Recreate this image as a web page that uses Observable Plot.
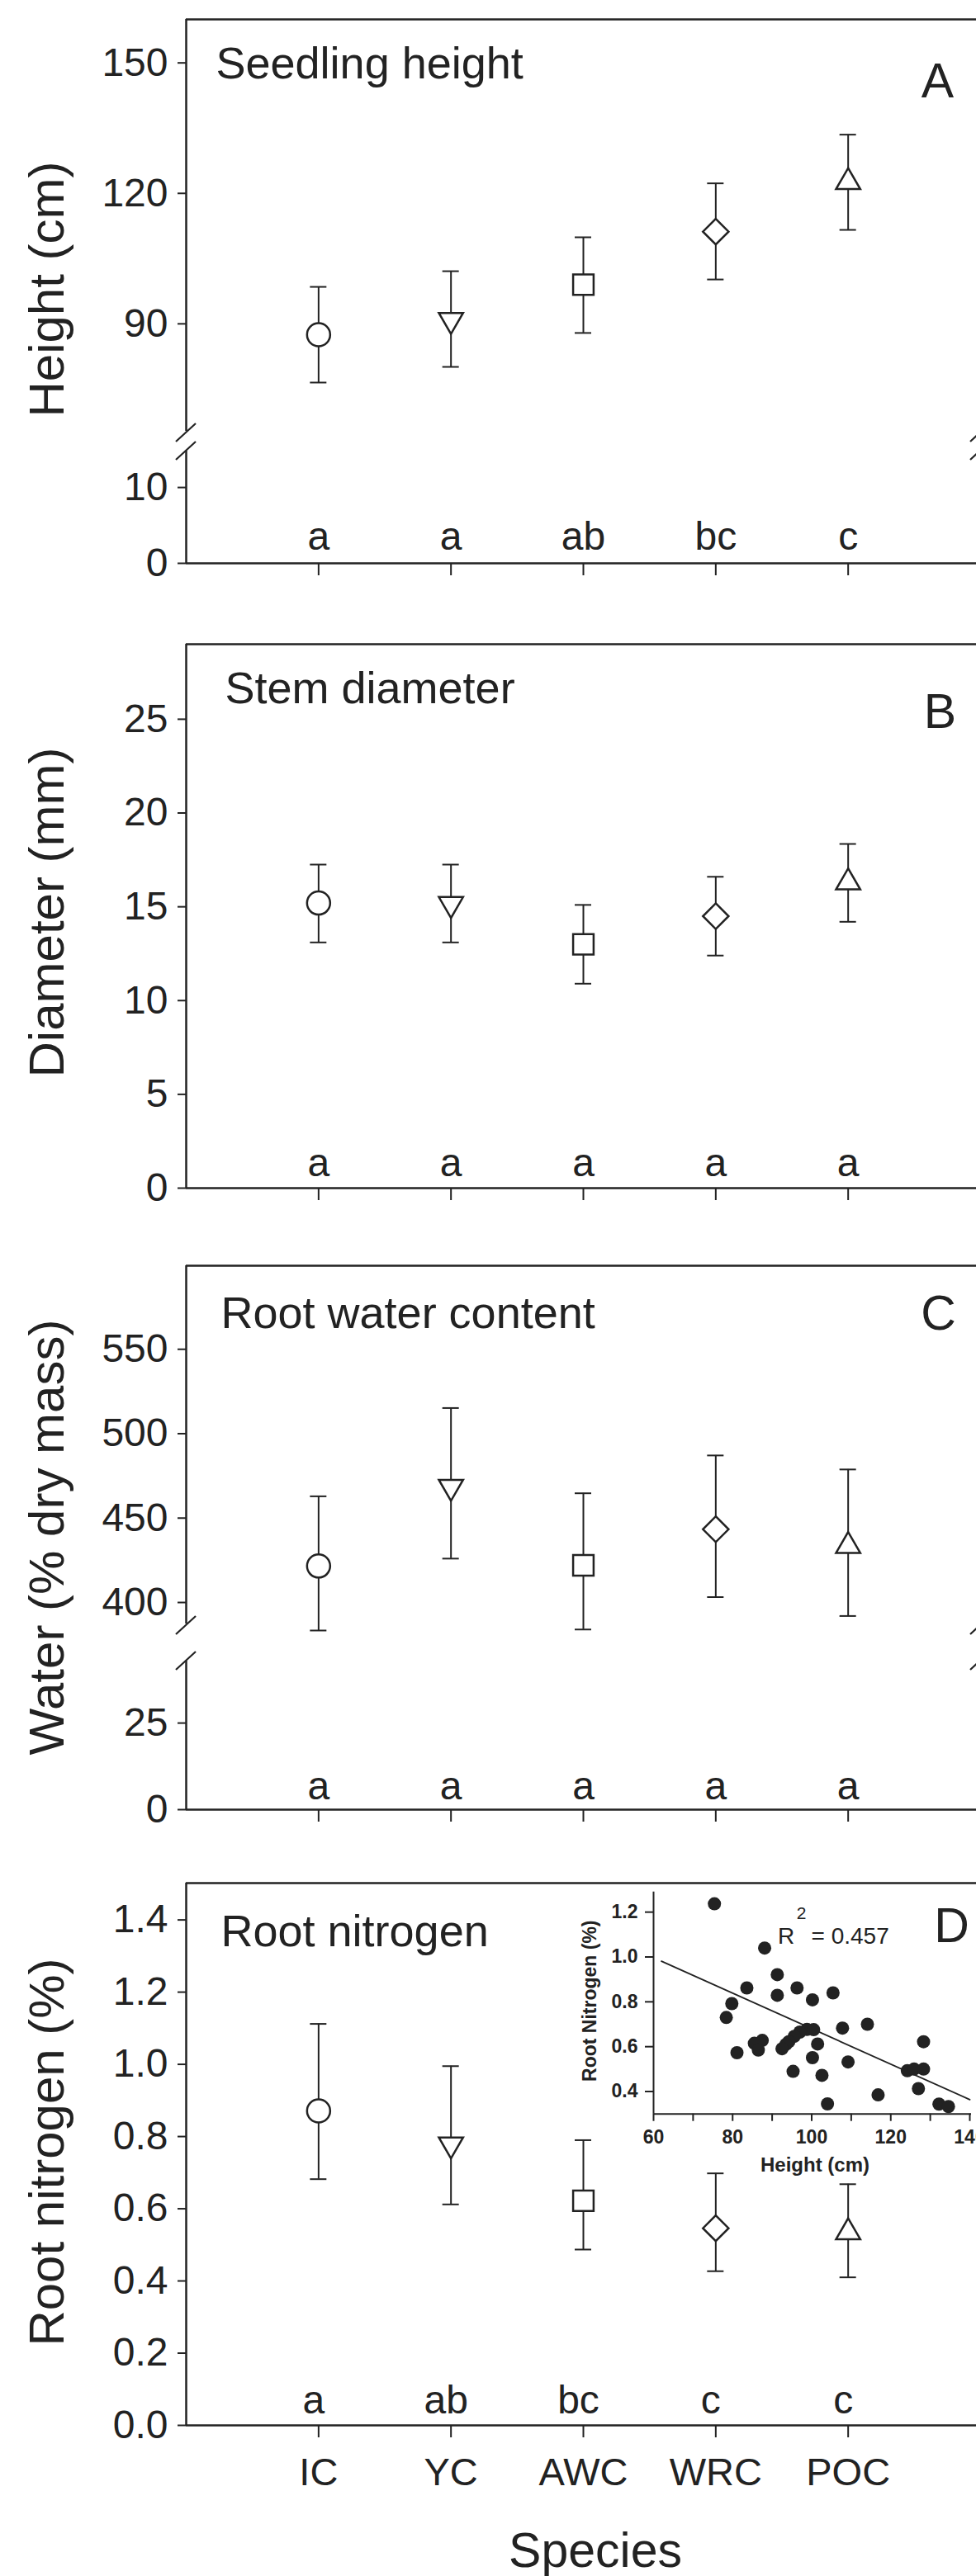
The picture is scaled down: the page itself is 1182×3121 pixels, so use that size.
<!DOCTYPE html>
<html><head><meta charset="utf-8">
<script src="https://cdn.jsdelivr.net/npm/d3@7"></script>
<script src="https://cdn.jsdelivr.net/npm/@observablehq/plot@0.6"></script>
<style>
html,body{margin:0;padding:0;background:#fff;overflow:hidden;}
#fig{position:relative;width:1182px;height:3121px;overflow:hidden;background:#fff;}
#fig svg{position:absolute;left:0;overflow:visible;}
</style></head><body><div id="fig"></div>
<script>
// ---------- data ----------
const species = ["IC", "YC", "AWC", "WRC", "POC"];
const markerSymbols = ["circle", "triangle-down", "square", "diamond2", "triangle2"];

// A: seedling height (cm)
const heightMean = [87.5, 90.9, 99.0, 111.2, 122.6];
const heightLo = [76.5, 80.1, 87.9, 100.2, 111.6];
const heightHi = [98.5, 102.1, 109.9, 122.3, 133.5];
const heightLetters = ["a", "a", "ab", "bc", "c"];
const heightTicksUpper = [90, 120, 150];
const heightTicksLower = [0, 10];

// B: stem diameter (mm)
const diamMean = [15.2, 15.15, 13.0, 14.5, 16.3];
const diamLo = [13.1, 13.1, 10.9, 12.4, 14.2];
const diamHi = [17.25, 17.25, 15.1, 16.6, 18.35];
const diamLetters = ["a", "a", "a", "a", "a"];
const diamTicks = [0, 5, 10, 15, 20, 25];

// C: root water content (% dry mass)
const waterMean = [421.6, 468.5, 422.0, 443.4, 433.5];
const waterLo = [383.4, 426.0, 384.0, 403.2, 392.0];
const waterHi = [462.9, 515.2, 464.7, 487.1, 478.8];
const waterLetters = ["a", "a", "a", "a", "a"];
const waterTicksUpper = [400, 450, 500, 550];
const waterTicksLower = [0, 25];

// D: root nitrogen (%)
const nitroMean = [0.871, 0.778, 0.622, 0.546, 0.535];
const nitroLo = [0.682, 0.612, 0.487, 0.427, 0.410];
const nitroHi = [1.112, 0.995, 0.790, 0.698, 0.668];
const nitroLetters = ["a", "ab", "bc", "c", "c"];
const nitroTicks = [0, 0.2, 0.4, 0.6, 0.8, 1.0, 1.2, 1.4];

// D inset: root N vs height
const insetHeight = [75.4, 88.1, 91.3, 83.6, 96.3, 91.3, 100.2, 105.4, 79.8, 78.4, 107.8, 114.1, 98.8, 100.5, 97.0, 95.6, 94.2, 93.5, 92.5, 101.5, 87.5, 85.5, 86.5, 81.1, 100.2, 109.2, 95.3, 102.6, 128.3, 124.2, 125.9, 128.3, 127.0, 116.8, 104.0, 132.2, 134.6];
const insetN = [1.237, 1.040, 0.921, 0.862, 0.862, 0.829, 0.809, 0.840, 0.792, 0.730, 0.683, 0.700, 0.677, 0.676, 0.665, 0.646, 0.622, 0.610, 0.591, 0.612, 0.628, 0.615, 0.585, 0.573, 0.551, 0.532, 0.490, 0.472, 0.622, 0.493, 0.500, 0.500, 0.413, 0.385, 0.345, 0.344, 0.333];
const fitHeight = [62, 140];
const fitN = [0.981, 0.364];
const insetXTicks = [60, 70, 80, 90, 100, 110, 120, 130, 140];
const insetYTicks = [0.4, 0.6, 0.8, 1.0, 1.2];
const r2Label = "= 0.457";

const titles = ["Seedling height", "Stem diameter", "Root water content", "Root nitrogen"];
const tags = ["A", "B", "C", "D"];
const yLabels = ["Height (cm)", "Diameter (mm)", "Water (% dry mass)", "Root nitrogen (%)"];

// ---------- drawing ----------
const ns = "http://www.w3.org/2000/svg";
const ink = "#222";
const FONT = "'Liberation Sans', Arial, Helvetica, sans-serif";
const fig = document.getElementById("fig");
const W = 1182;
const xRange = [225, 1187];
const capHalf = 10 / ((xRange[1] - xRange[0]) / 6);

const triangleDown = {
  draw(ctx, size) {
    const s = Math.sqrt(size) * 0.6824, t = s / 2, u = s * Math.sqrt(3) / 2;
    ctx.moveTo(0, s); ctx.lineTo(-u, -t); ctx.lineTo(u, -t); ctx.closePath();
  }
};
const symOf = (name) => name === "triangle-down" ? triangleDown : name;

function rowsOf(mean, lo, hi, letters) {
  return species.map((s, i) => ({i, s, mean: mean[i], lo: lo[i], hi: hi[i], letter: letters[i], sym: markerSymbols[i]}));
}

function breakMarks(where) {
  return (index, scales, values, dims) => {
    const g = document.createElementNS(ns, "g");
    const y = where === "bottom" ? dims.height - dims.marginBottom + 2 : dims.marginTop;
    for (const x of [scales.x(-1), scales.x(5)]) {
      const l = document.createElementNS(ns, "line");
      l.setAttribute("x1", x - 12); l.setAttribute("y1", y + 11);
      l.setAttribute("x2", x + 12); l.setAttribute("y2", y - 11);
      l.setAttribute("stroke", ink); l.setAttribute("stroke-width", 2.2);
      g.appendChild(l);
    }
    return g;
  };
}

function panel(cfg) {
  const marks = [];
  marks.push(Plot.ruleX([-1], {stroke: ink, strokeWidth: 2.5}));
  marks.push(Plot.ruleX([5], {stroke: ink, strokeWidth: 2.5}));
  if (cfg.topBorder) marks.push(Plot.ruleY([cfg.domain[1]], {stroke: ink, strokeWidth: 2.5}));
  if (cfg.xAxis) marks.push(Plot.ruleY([0], {stroke: ink, strokeWidth: 2.5}));
  marks.push(Plot.axisY({ticks: cfg.ticks, tickFormat: cfg.tickFormat, tickSize: 10, tickPadding: 12, fontSize: 48, strokeWidth: 2, stroke: ink, label: null}));
  if (cfg.xAxis) {
    marks.push(Plot.axisX({ticks: species.map((_, i) => i), tickFormat: cfg.xLabels ? (i => species[i]) : (() => ""), tickSize: 15, tickPadding: 24, fontSize: 47, strokeWidth: 2, stroke: ink, label: null}));
  }
  if (cfg.breakAt) marks.push(breakMarks(cfg.breakAt));
  const data = cfg.data;
  if (cfg.points) {
    marks.push(Plot.ruleX(data, {x: "i", y1: "lo", y2: "hi", stroke: ink, strokeWidth: 2}));
    marks.push(Plot.ruleY(data, {y: "hi", x1: d => d.i - capHalf, x2: d => d.i + capHalf, stroke: ink, strokeWidth: 2}));
    marks.push(Plot.ruleY(data, {y: "lo", x1: d => d.i - capHalf, x2: d => d.i + capHalf, stroke: ink, strokeWidth: 2}));
    for (const d of data) {
      marks.push(Plot.dot([d], {x: "i", y: "mean", symbol: symOf(d.sym), r: 14, fill: "white", stroke: ink, strokeWidth: 2.5}));
    }
  }
  if (cfg.letters) {
    marks.push(Plot.text(data, {x: "i", text: "letter", frameAnchor: "bottom", dy: cfg.letterDy, dx: cfg.letterDx || 0, fontSize: 48, lineAnchor: "middle", fill: ink}));
  }
  if (cfg.title) {
    marks.push(Plot.text([cfg.title], {text: d => d, frameAnchor: "top-left", textAnchor: "start", lineAnchor: "middle", dx: cfg.titleDx, dy: cfg.titleDy, fontSize: 54, fill: ink}));
    marks.push(Plot.text([cfg.tag], {text: d => d, frameAnchor: "top-left", textAnchor: "middle", lineAnchor: "middle", dx: cfg.tagX - 225, dy: cfg.tagDy, fontSize: 59, fill: ink}));
  }
  if (cfg.ylabel) {
    marks.push(Plot.text([cfg.ylabel], {text: d => d, frameAnchor: "top-left", rotate: -90, textAnchor: "middle", lineAnchor: "middle", dx: -168, dy: cfg.ylabelDy, fontSize: 60, fill: ink}));
  }
  if (cfg.species) {
    marks.push(Plot.text(["Species"], {text: d => d, frameAnchor: "bottom", lineAnchor: "middle", dx: 17, dy: 153, fontSize: 59, fill: ink}));
  }
  const xScale = {domain: [-1, 5], range: xRange, label: null};
  if (!cfg.xAxis) xScale.axis = null;
  const svg = Plot.plot({
    width: W, height: cfg.height,
    marginTop: cfg.frameTop - cfg.top, marginBottom: cfg.top + cfg.height - cfg.frameBottom,
    marginLeft: 225, marginRight: 0,
    x: xScale,
    y: {domain: cfg.domain, label: null},
    style: {fontFamily: FONT, fontSize: "48px", color: ink, background: "transparent", overflow: "visible"},
    marks
  });
  svg.style.top = cfg.top + "px";
  fig.appendChild(svg);
  return svg;
}

const fmt1 = d3.format(".1f");

// Panel A (broken axis)
const rowsA = rowsOf(heightMean, heightLo, heightHi, heightLetters);
panel({top: 0, height: 530, frameTop: 23, frameBottom: 522, domain: [65.3, 160], ticks: heightTicksUpper,
  topBorder: true, breakAt: "bottom", data: rowsA, points: true,
  title: titles[0], titleDx: 36, titleDy: 54, tag: tags[0], tagX: 1135, tagDy: 76, ylabel: yLabels[0], ylabelDy: 327});
panel({top: 530, height: 230, frameTop: 546, frameBottom: 682, domain: [0, 14.8], ticks: heightTicksLower,
  xAxis: true, breakAt: "top", data: rowsA, letters: true, letterDy: -32});

// Panel B
const rowsB = rowsOf(diamMean, diamLo, diamHi, diamLetters);
panel({top: 760, height: 740, frameTop: 780, frameBottom: 1439, domain: [0, 29], ticks: diamTicks,
  topBorder: true, xAxis: true, data: rowsB, points: true, letters: true, letterDy: -30,
  title: titles[1], titleDx: 47, titleDy: 54, tag: tags[1], tagX: 1138, tagDy: 83, ylabel: yLabels[1], ylabelDy: 325});

// Panel C (broken axis)
const rowsC = rowsOf(waterMean, waterLo, waterHi, waterLetters);
panel({top: 1500, height: 480, frameTop: 1533, frameBottom: 1967, domain: [387.3, 599.5], ticks: waterTicksUpper,
  topBorder: true, breakAt: "bottom", data: rowsC, points: true,
  title: titles[2], titleDx: 42, titleDy: 58, tag: tags[2], tagX: 1136, tagDy: 59, ylabel: yLabels[2], ylabelDy: 329});
panel({top: 1980, height: 260, frameTop: 2012, frameBottom: 2192, domain: [0, 42.9], ticks: waterTicksLower,
  xAxis: true, breakAt: "top", data: rowsC, letters: true, letterDy: -28});

// Panel D
const rowsD = rowsOf(nitroMean, nitroLo, nitroHi, nitroLetters);
panel({top: 2240, height: 881, frameTop: 2281, frameBottom: 2938, domain: [0, 1.502], ticks: nitroTicks, tickFormat: fmt1,
  topBorder: true, xAxis: true, xLabels: true, data: rowsD, points: true, letters: true, letterDy: -30, letterDx: -6,
  title: titles[3], titleDx: 42, titleDy: 59, tag: tags[3], tagX: 1152, tagDy: 53, ylabel: yLabels[3], ylabelDy: 326, species: true});

// Inset scatter
const scatter = insetHeight.map((h, i) => ({h, n: insetN[i]}));
const fit = fitHeight.map((h, i) => ({h, n: fitN[i]}));
const insetTop = 2270, insetH = 380, insetFrameTop = 2291.7, insetFrameBottom = 2560.7;
const inset = Plot.plot({
  width: W, height: insetH,
  marginTop: insetFrameTop - insetTop, marginBottom: insetTop + insetH - insetFrameBottom,
  marginLeft: 791, marginRight: 6,
  x: {domain: [60, 140], range: [791, 1174], label: null},
  y: {domain: [0.3, 1.29], label: null},
  style: {fontFamily: FONT, fontSize: "24px", color: ink, background: "transparent", overflow: "visible"},
  marks: [
    Plot.ruleX([60], {stroke: ink, strokeWidth: 2}),
    Plot.ruleY([0.3], {stroke: ink, strokeWidth: 2}),
    Plot.axisY({ticks: insetYTicks, tickFormat: fmt1, tickSize: 10, tickPadding: 9, fontSize: 23, fontWeight: "bold", strokeWidth: 2, stroke: ink, label: null}),
    Plot.axisX({ticks: insetXTicks, tickFormat: d => d % 20 === 0 ? String(d) : "", tickSize: 9, tickPadding: 10, fontSize: 23, fontWeight: "bold", strokeWidth: 2, stroke: ink, label: null}),
    Plot.line(fit, {x: "h", y: "n", stroke: ink, strokeWidth: 1.8}),
    Plot.dot(scatter, {x: "h", y: "n", r: 8, fill: ink, stroke: "none"}),
    Plot.text(["Root Nitrogen (%)"], {text: d => d, frameAnchor: "top-left", rotate: -90, textAnchor: "middle", lineAnchor: "middle", dx: -77, dy: 132, fontSize: 23, fontWeight: "bold", fill: ink}),
    Plot.text(["Height (cm)"], {text: d => d, frameAnchor: "bottom", lineAnchor: "middle", dx: 3, dy: 62, fontSize: 24, fontWeight: "bold", fill: ink}),
    Plot.text(["R"], {text: d => d, frameAnchor: "top-left", textAnchor: "middle", lineAnchor: "middle", dx: 160.7, dy: 54.3, fontSize: 28, fill: ink}),
    Plot.text(["2"], {text: d => d, frameAnchor: "top-left", textAnchor: "middle", lineAnchor: "middle", dx: 179, dy: 25.7, fontSize: 21, fill: ink}),
    Plot.text([r2Label], {text: d => d, frameAnchor: "top-left", textAnchor: "start", lineAnchor: "middle", dx: 191, dy: 54.3, fontSize: 28, fill: ink})
  ]
});
inset.style.top = insetTop + "px";
fig.appendChild(inset);
</script>
</body></html>
